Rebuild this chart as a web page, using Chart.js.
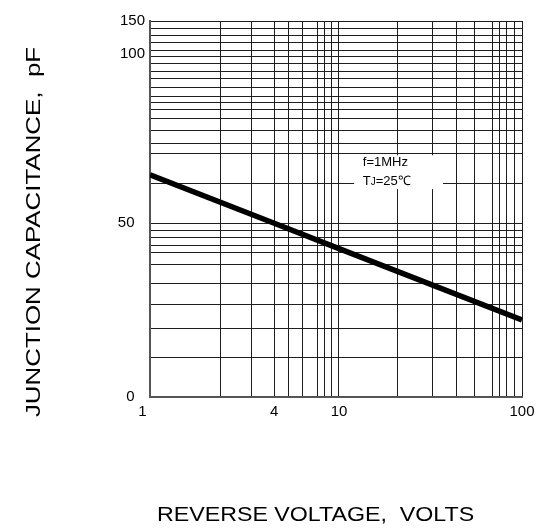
<!DOCTYPE html>
<html><head><meta charset="utf-8">
<script src="https://cdn.jsdelivr.net/npm/chart.js@4/dist/chart.umd.min.js"></script>
<style>html,body{margin:0;padding:0;background:#fff}canvas{display:block}</style>
</head><body>
<canvas id="c" width="542" height="529" style="width:542px;height:529px"></canvas>
<script>
// ---- data ----
const voltage = [1, 4, 10, 100];                 // V (reverse voltage)
const capacitance = [64.3, 50, 42.7, 22.2];      // pF (junction capacitance)
const xLabelValues = [1, 4, 10, 100];
const xGridValues = [1, 2.2, 3.1, 4, 4.9, 6, 7.35, 8.1, 9, 10, 20.8, 32.3, 43.8, 54.7, 68.6, 75.2, 82.8, 90.8, 100];
const yLabelValues = [0, 50, 100, 150];
const yGridValues = [0, 11.4, 19.6, 26.6, 32.7, 38.0, 41.6, 43.7, 45.8, 47.9, 50, 61.8, 70.5, 73.6, 77.3, 81.1, 83.7, 85.6, 87.6, 90.0, 92.8, 94.8, 97.1, 99.2, 106.1, 118.2, 128.3, 138.9, 150];
const noteLines = ['f=1MHz', 'TJ=25\u2103'];

const FONT = '"Liberation Sans", Arial, Helvetica, sans-serif';

// piecewise scale: labelled values sit where the reference puts them
const LinearBase = Chart.LinearScale || Chart.registry.getScale('linear');
class PiecewiseScale extends LinearBase {
  _t(v) { return this.options.logarithmic ? Math.log10(v) : v; }
  _decimalFor(v) {
    const a = this.options.anchors;
    const t = this._t(v);
    let i = 0;
    while (i < a.length - 2 && t > this._t(a[i + 1][0])) i++;
    const t0 = this._t(a[i][0]), t1 = this._t(a[i + 1][0]);
    return a[i][1] + (t - t0) / (t1 - t0) * (a[i + 1][1] - a[i][1]);
  }
  getPixelForValue(v) {
    if (v === null || v === undefined || isNaN(v)) return NaN;
    return this.getPixelForDecimal(this._decimalFor(v));
  }
  getValueForPixel(p) {
    const d = this.getDecimalForPixel(p);
    const a = this.options.anchors;
    let i = 0;
    while (i < a.length - 2 && d > a[i + 1][1]) i++;
    const t0 = this._t(a[i][0]), t1 = this._t(a[i + 1][0]);
    const t = t0 + (d - a[i][1]) / (a[i + 1][1] - a[i][1]) * (t1 - t0);
    return this.options.logarithmic ? Math.pow(10, t) : t;
  }
  drawTitle() {
    const s = this.options.titleShift || [0, 0];
    const st = this.options.titleStretch || [1, 1];
    const ctx = this.ctx;
    const ax = (this.isHorizontal() && this.options.title.align === 'start') ? this.left : (this.left + this.right) / 2;
    const ay = (this.top + this.bottom) / 2;
    ctx.save();
    ctx.translate(s[0], s[1]);
    ctx.translate(ax, ay);
    ctx.scale(st[0], st[1]);
    ctx.translate(-ax, -ay);
    super.drawTitle();
    ctx.restore();
  }
}
PiecewiseScale.id = 'piecewise';
PiecewiseScale.defaults = { ticks: { callback: (v) => String(v) } };
Chart.register(PiecewiseScale);

const union = (a, b) => Array.from(new Set(a.concat(b))).sort((p, q) => p - q);

const notePlugin = {
  id: 'note',
  beforeDatasetsDraw(chart, args, opts) {
    const { ctx, scales: { x, y } } = chart;
    const l = x.getPixelForValue(opts.box[0]), r = x.getPixelForValue(opts.box[1]);
    const t = y.getPixelForValue(opts.box[3]), b = y.getPixelForValue(opts.box[2]);
    ctx.save();
    ctx.fillStyle = '#fff';
    ctx.fillRect(l, t, r - l, b - t);
    ctx.fillStyle = '#000';
    ctx.textBaseline = 'middle';
    ctx.textAlign = 'left';
    const tx = x.getPixelForValue(opts.textX);
    ctx.font = '13px ' + FONT;
    ctx.fillText(noteLines[0], tx, y.getPixelForValue(opts.textY[0]));
    const y2 = y.getPixelForValue(opts.textY[1]);
    const line = noteLines[1];
    let cx = tx;
    ctx.fillText(line[0], cx, y2); cx += ctx.measureText(line[0]).width;
    ctx.font = '10px ' + FONT;
    ctx.fillText(line[1], cx, y2 + 1); cx += ctx.measureText(line[1]).width;
    ctx.font = '13px ' + FONT;
    ctx.fillText(line.slice(2), cx, y2);
    ctx.restore();
  }
};

new Chart(document.getElementById('c'), {
  type: 'line',
  data: {
    datasets: [{
      data: voltage.map((v, i) => ({ x: v, y: capacitance[i] })),
      borderColor: '#000',
      borderWidth: 5.5,
      pointRadius: 0,
      tension: 0,
      fill: false
    }]
  },
  options: {
    responsive: false,
    animation: false,
    devicePixelRatio: 1,
    layout: { padding: { left: 0, right: 20, top: 21, bottom: 0 } },
    plugins: {
      legend: { display: false },
      tooltip: { enabled: false },
      note: { box: [12.1, 37, 60.1, 70.1], textX: 13.5, textY: [68.0, 62.5] }
    },
    scales: {
      x: {
        type: 'piecewise',
        logarithmic: true,
        anchors: [[1, 0], [4, 0.334], [10, 0.508], [100, 1]],
        min: 1, max: 100,
        titleShift: [7, 0],
        titleStretch: [1.16, 1],
        afterBuildTicks: (s) => { s.ticks = union(xGridValues, xLabelValues).map(v => ({ value: v })); },
        afterFit: (s) => { s.height = 132; },
        grid: {
          drawTicks: false,
          lineWidth: 1,
          color: (c) => xGridValues.includes(c.tick && c.tick.value) ? '#1e1e1e' : 'rgba(0,0,0,0)'
        },
        border: { display: true, color: '#555', width: 2 },
        ticks: {
          autoSkip: false, maxRotation: 0, padding: 6, color: '#000',
          font: { size: 15, family: FONT },
          callback: (v) => xLabelValues.includes(v) ? (v === 1 ? '1\u2002\u2002' : String(v)) : ''
        },
        title: {
          display: true, text: 'REVERSE VOLTAGE,  VOLTS', align: 'start', color: '#000',
          font: { size: 20, family: FONT }, padding: { top: 0, bottom: 2 }
        }
      },
      y: {
        type: 'piecewise',
        logarithmic: false,
        anchors: [[0, 0], [50, 0.462], [100, 0.912], [150, 1]],
        min: 0, max: 150,
        titleShift: [0, 23],
        titleStretch: [1, 1.233],
        afterBuildTicks: (s) => { s.ticks = union(yGridValues, yLabelValues).map(v => ({ value: v })); },
        afterFit: (s) => { s.width = 150; },
        grid: {
          drawTicks: false,
          lineWidth: 1,
          color: (c) => yGridValues.includes(c.tick && c.tick.value) ? '#1e1e1e' : 'rgba(0,0,0,0)'
        },
        border: { display: true, color: '#555', width: 2 },
        ticks: {
          autoSkip: false, padding: 5, color: '#000',
          font: { size: 15, family: FONT },
          callback: (v) => yLabelValues.includes(v) ? (v < 100 ? String(v) + '\u2002\u2009' : String(v)) : ''
        },
        title: {
          display: true, text: 'JUNCTION CAPACITANCE,  pF', align: 'center', color: '#000',
          font: { size: 21, family: FONT }, padding: { top: 21.4, bottom: 0 }
        }
      }
    }
  },
  plugins: [notePlugin]
});
</script>
</body></html>
